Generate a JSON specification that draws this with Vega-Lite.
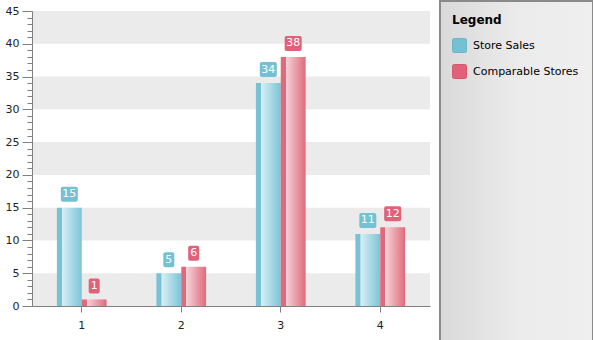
{
  "$schema": "https://vega.github.io/schema/vega-lite/v6.json",
  "padding": {"left": 5, "top": 0, "right": 0, "bottom": 0},
  "background": "white",
  "config": {"font": "DejaVu Sans", "axis": {"labelFont": "DejaVu Sans", "labelFontSize": 11, "labelColor": "#222222", "grid": false}, "view": {"stroke": null}},
  "width": 398,
  "height": 295,
  "data": {"values": [
    {"cat": "1", "series": "Store Sales", "value": 15},
    {"cat": "1", "series": "Comparable Stores", "value": 1},
    {"cat": "2", "series": "Store Sales", "value": 5},
    {"cat": "2", "series": "Comparable Stores", "value": 6},
    {"cat": "3", "series": "Store Sales", "value": 34},
    {"cat": "3", "series": "Comparable Stores", "value": 38},
    {"cat": "4", "series": "Store Sales", "value": 11},
    {"cat": "4", "series": "Comparable Stores", "value": 12}
  ]},
  "resolve": {"axis": {"y": "independent"}},
  "layer": [
    {
      "data": {"values": [{"lo": 0, "hi": 5}, {"lo": 10, "hi": 15}, {"lo": 20, "hi": 25}, {"lo": 30, "hi": 35}, {"lo": 40, "hi": 45}]},
      "mark": {"type": "rect", "color": "#ebebeb"},
      "encoding": {
        "y": {"field": "lo", "type": "quantitative", "scale": {"domain": [0, 45], "nice": false},
          "axis": {"orient": "left", "title": null, "values": [0, 5, 10, 15, 20, 25, 30, 35, 40, 45], "tickSize": 10, "labelPadding": 3, "domainColor": "#808080", "tickColor": "#808080", "zindex": 1}},
        "y2": {"field": "hi"}
      }
    },
    {
      "data": {"values": [{"lo": 0}, {"lo": 45}]},
      "mark": {"type": "point", "opacity": 0},
      "encoding": {
        "y": {"field": "lo", "type": "quantitative",
          "axis": {"orient": "left", "title": null, "labels": false, "domain": false, "tickSize": 5, "tickColor": "#808080",
            "values": [0,1,2,3,4,5,6,7,8,9,10,11,12,13,14,15,16,17,18,19,20,21,22,23,24,25,26,27,28,29,30,31,32,33,34,35,36,37,38,39,40,41,42,43,44,45]}},
        "stroke": {"field": "lo", "type": "quantitative",
          "legend": {
            "orient": "none", "legendX": 408, "legendY": -10, "zindex": 0, "title": null,
            "direction": "vertical", "gradientLength": 320, "gradientThickness": 133, "padding": 10,
            "gradientOpacity": 0, "gradientStrokeWidth": 0, "labelExpr": "''", "labelOffset": 0, "labelFontSize": 1, "tickCount": 2,
            "strokeColor": "#8a8a8a",
            "encode": {"legend": {"update": {
              "fill": {"value": {"gradient": "linear", "x1": 0, "y1": 0, "x2": 1, "y2": 0, "stops": [
                {"offset": 0, "color": "#d9d9d9"}, {"offset": 0.5, "color": "#ebebeb"}, {"offset": 1, "color": "#efefef"}]}},
              "stroke": {"value": "#8a8a8a"},
              "strokeWidth": {"value": 2}
            }}}
          }}
      }
    },
    {
      "transform": [{"filter": "datum.series === 'Store Sales'"}],
      "mark": {"type": "bar", "color": {"gradient": "linear", "x1": 0, "y1": 0, "x2": 1, "y2": 0, "stops": [
        {"offset": 0, "color": "#78c2d4"}, {"offset": 0.2, "color": "#78c2d4"}, {"offset": 0.21, "color": "#d8eff5"}, {"offset": 1, "color": "#7cc4d6"}]}},
      "encoding": {
        "x": {"field": "cat", "type": "ordinal", "scale": {"paddingInner": 0.5, "paddingOuter": 0.25},
          "axis": {"title": null, "labelAngle": 0, "tickSize": 6, "labelPadding": 7, "domainColor": "#808080", "tickColor": "#808080", "zindex": 1}},
        "xOffset": {"field": "series", "type": "nominal", "scale": {"domain": ["Store Sales", "Comparable Stores"]}},
        "y": {"field": "value", "type": "quantitative", "axis": null}
      }
    },
    {
      "transform": [{"filter": "datum.series === 'Comparable Stores'"}],
      "mark": {"type": "bar", "color": {"gradient": "linear", "x1": 0, "y1": 0, "x2": 1, "y2": 0, "stops": [
        {"offset": 0, "color": "#e06a7b"}, {"offset": 0.2, "color": "#e06a7b"}, {"offset": 0.21, "color": "#f6d2d8"}, {"offset": 1, "color": "#e06a7b"}]}},
      "encoding": {
        "x": {"field": "cat", "type": "ordinal"},
        "xOffset": {"field": "series", "type": "nominal", "scale": {"domain": ["Store Sales", "Comparable Stores"]}},
        "y": {"field": "value", "type": "quantitative", "axis": null}
      }
    },
    {
      "mark": {"type": "bar", "cornerRadius": 2, "yOffset": -21, "y2Offset": -6},
      "encoding": {
        "x": {"field": "cat", "type": "ordinal"},
        "xOffset": {"field": "series", "type": "nominal", "scale": {"domain": ["Store Sales", "Comparable Stores"]}},
        "y": {"field": "value", "type": "quantitative", "axis": null},
        "y2": {"field": "value"},
        "size": {"field": "value", "type": "quantitative", "scale": {"type": "threshold", "domain": [10], "range": [11, 17]}, "legend": null},
        "color": {"field": "series", "type": "nominal", "scale": {"domain": ["Store Sales", "Comparable Stores"], "range": ["#74c1d4", "#e1607a"]},
          "legend": {
            "orient": "none", "legendX": 420, "legendY": 4, "padding": 0, "zindex": 1,
            "title": "Legend", "titleFont": "DejaVu Sans", "titleFontSize": 12, "titleFontWeight": "bold", "titleColor": "#000000", "titlePadding": 11,
            "labelFont": "DejaVu Sans", "labelFontSize": 11, "labelColor": "#000000", "labelOffset": 6,
            "symbolType": "M-1,-0.75Q-1,-1,-0.75,-1L0.75,-1Q1,-1,1,-0.75L1,0.75Q1,1,0.75,1L-0.75,1Q-1,1,-1,0.75Z",
            "symbolSize": 196, "symbolOpacity": 1, "symbolStrokeWidth": 1, "rowPadding": 7,
            "encode": {"symbols": {"update": {
              "fill": {"signal": "datum.value === 'Store Sales' ? {gradient: 'linear', x1: 0, y1: 0, x2: 0, y2: 1, stops: [{offset: 0, color: '#d4eef4'}, {offset: 0.5, color: '#b9e2ec'}, {offset: 0.51, color: '#8dcfdf'}, {offset: 1, color: '#7cc5d6'}]} : {gradient: 'linear', x1: 0, y1: 0, x2: 0, y2: 1, stops: [{offset: 0, color: '#f7d3d9'}, {offset: 0.5, color: '#f0b2bc'}, {offset: 0.51, color: '#e6808f'}, {offset: 1, color: '#e06a7b'}]}"},
              "stroke": {"signal": "datum.value === 'Store Sales' ? '#6cb6c8' : '#d65a6d'"},
              "opacity": {"value": 1}
            }}}
          }}
      }
    },
    {
      "mark": {"type": "text", "color": "white", "dy": -13.5, "fontSize": 11, "baseline": "middle", "font": "DejaVu Sans"},
      "encoding": {
        "x": {"field": "cat", "type": "ordinal"},
        "xOffset": {"field": "series", "type": "nominal", "scale": {"domain": ["Store Sales", "Comparable Stores"]}},
        "y": {"field": "value", "type": "quantitative", "axis": null},
        "text": {"field": "value", "type": "quantitative"}
      }
    }
  ]
}
